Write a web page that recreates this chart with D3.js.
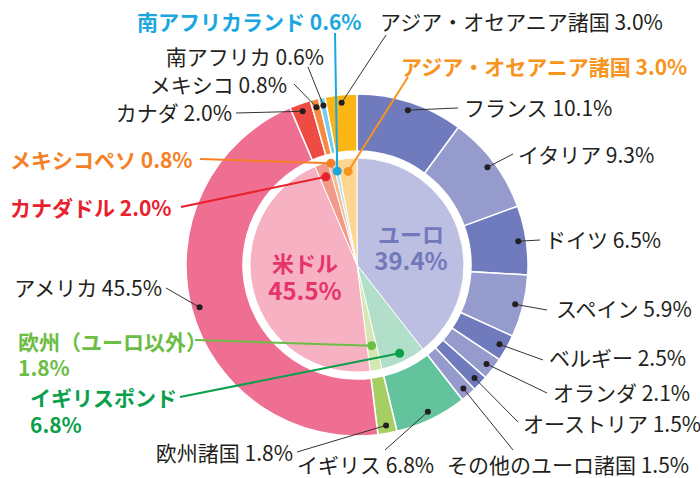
<!DOCTYPE html>
<html>
<head>
<meta charset="utf-8">
<script src="https://cdn.jsdelivr.net/npm/d3@7"></script>
<style>
  body { margin: 0; background: #fff; }
  svg { display: block; font-family: "Noto Sans CJK JP", "Noto Sans", sans-serif; }
</style>
</head>
<body>
<svg id="chart" width="700" height="478"></svg>
<script>
// inner ring: currencies
const currencies = ["ユーロ", "イギリスポンド", "欧州（ユーロ以外）", "米ドル", "カナダドル", "メキシコペソ", "南アフリカランド", "アジア・オセアニア諸国"];
const currencyShares = [39.4, 6.8, 1.8, 45.5, 2.0, 0.8, 0.6, 3.0];

// outer ring: countries
const countries = ["フランス", "イタリア", "ドイツ", "スペイン", "ベルギー", "オランダ", "オーストリア", "その他のユーロ諸国",
  "イギリス", "欧州諸国", "アメリカ", "カナダ", "メキシコ", "南アフリカ", "アジア・オセアニア諸国"];
const countryShares = [10.1, 9.3, 6.5, 5.9, 2.5, 2.1, 1.5, 1.5, 6.8, 1.8, 45.5, 2.0, 0.8, 0.6, 3.0];

const innerColors = ["#bcbfe1", "#b2dfca", "#d6e7b3", "#f6b2c3", "#f29a8a", "#f8b98c", "#b3e1f5", "#fed68f"];
const outerColors = ["#6f7bbd", "#959bcc", "#6f7bbd", "#959bcc", "#6f7bbd", "#959bcc", "#6f7bbd", "#959bcc",
  "#62c39c", "#a5cf62", "#ef6f92", "#ee4b45", "#f68b3f", "#76cbef", "#fcb614"];

// label placement, same order as the arrays above
const outerLabelPos = [
  {x: 464, y: 108, anchor: "start", lx: 458, ly: 108},
  {x: 518, y: 155, anchor: "start", lx: 513, ly: 154},
  {x: 545, y: 240, anchor: "start", lx: 540, ly: 240},
  {x: 556, y: 309, anchor: "start", lx: 547, ly: 310},
  {x: 549, y: 358, anchor: "start", lx: 543, ly: 360},
  {x: 553, y: 393, anchor: "start", lx: 547, ly: 393},
  {x: 523, y: 424, anchor: "start", lx: 518, ly: 422},
  {x: 447, y: 465, anchor: "start", lx: 513, ly: 450},
  {x: 297, y: 465, anchor: "start", lx: 385, ly: 450},
  {x: 293, y: 453, anchor: "end", lx: 297, ly: 452},
  {x: 162, y: 288, anchor: "end", lx: 166, ly: 288},
  {x: 232, y: 113, anchor: "end", lx: 236, ly: 113},
  {x: 287, y: 85, anchor: "end", lx: 294, ly: 84},
  {x: 324, y: 57, anchor: "end", lx: 308, ly: 67},
  {x: 380, y: 22, anchor: "start", lx: 386, ly: 35}
];

const innerLabelPos = [
  {center: true, x: 411, y: 235, gap: 26, color: "#7279bb"},
  {x: 30, y: 398, gap: 27, lx: 180, ly: 397, r: 98, color: "#0aa04b", wrap: true},
  {x: 18, y: 342, gap: 26, lx: 195, ly: 340, r: 82, color: "#6cbd45", wrap: true},
  {center: true, x: 305, y: 264, gap: 27, color: "#e6336c"},
  {x: 10, y: 208, lx: 181, ly: 207, r: 93.5, color: "#e8212e"},
  {x: 10, y: 160, lx: 200, ly: 159, r: 105, color: "#f58025"},
  {x: 137, y: 22, lx: 335, ly: 33, r: 96, color: "#1aa7df"},
  {x: 401, y: 67, lx: 408, ly: 77, r: 94, color: "#f7941e"}
];

const cx = 357, cy = 265;
const outerR = 171, ringInner = 114, innerR = 107, dotR = 163;
const fmt = v => d3.format(".1f")(v) + "%";

const svg = d3.select("#chart");
const g = svg.append("g").attr("transform", `translate(${cx},${cy})`);

const pie = d3.pie().sort(null).value(d => d.value);

const innerData = pie(currencies.map((c, i) => ({name: c, value: currencyShares[i], i: i})));
const outerData = pie(countries.map((c, i) => ({name: c, value: countryShares[i], i: i})));

const innerArc = d3.arc().innerRadius(0).outerRadius(innerR);
const outerArc = d3.arc().innerRadius(ringInner).outerRadius(outerR);
const dotArc = d3.arc().innerRadius(dotR).outerRadius(dotR);

g.selectAll("path.outer")
  .data(outerData)
  .enter().append("path")
  .attr("class", "outer")
  .attr("d", outerArc)
  .attr("fill", d => outerColors[d.data.i])
  .attr("stroke", "#fff")
  .attr("stroke-width", 1.5);

g.selectAll("path.inner")
  .data(innerData)
  .enter().append("path")
  .attr("class", "inner")
  .attr("d", innerArc)
  .attr("fill", d => innerColors[d.data.i])
  .attr("stroke", "#fff")
  .attr("stroke-width", 1);

// outer labels (black)
outerData.forEach(d => {
  const p = outerLabelPos[d.data.i];
  const c = dotArc.centroid(d);
  g.append("line")
    .attr("x1", c[0]).attr("y1", c[1])
    .attr("x2", p.lx - cx).attr("y2", p.ly - cy)
    .attr("stroke", "#333").attr("stroke-width", 1);
  g.append("circle")
    .attr("cx", c[0]).attr("cy", c[1]).attr("r", 3)
    .attr("fill", "#231f20");
  svg.append("text")
    .attr("x", p.x).attr("y", p.y)
    .attr("dy", "0.36em")
    .attr("text-anchor", p.anchor)
    .attr("font-size", "21px")
    .attr("fill", "#231f20")
    .text(d.data.name + " " + fmt(d.data.value));
});

// inner labels (coloured, bold); two-line ones use tspans in one text
innerData.forEach(d => {
  const p = innerLabelPos[d.data.i];
  if (p.center) {
    const t = svg.append("text")
      .attr("text-anchor", "middle")
      .attr("font-weight", "bold")
      .attr("fill", p.color);
    t.append("tspan")
      .attr("x", p.x).attr("y", p.y).attr("dy", "0.36em")
      .attr("font-size", "22px")
      .text(d.data.name);
    t.append("tspan")
      .attr("x", p.x).attr("y", p.y + p.gap).attr("dy", "0.36em")
      .attr("font-size", "24px")
      .text(fmt(d.data.value));
    return;
  }
  const c = d3.arc().innerRadius(p.r).outerRadius(p.r).centroid(d);
  g.append("line")
    .attr("x1", c[0]).attr("y1", c[1])
    .attr("x2", p.lx - cx).attr("y2", p.ly - cy)
    .attr("stroke", p.color).attr("stroke-width", 2);
  g.append("circle")
    .attr("cx", c[0]).attr("cy", c[1]).attr("r", 4.5)
    .attr("fill", p.color);
  const t = svg.append("text")
    .attr("font-size", "21px").attr("font-weight", "bold")
    .attr("fill", p.color);
  if (p.wrap) {
    t.append("tspan")
      .attr("x", p.x).attr("y", p.y).attr("dy", "0.36em")
      .text(d.data.name);
    t.append("tspan")
      .attr("x", p.x).attr("y", p.y + p.gap).attr("dy", "0.36em")
      .text(fmt(d.data.value));
  } else {
    t.attr("x", p.x).attr("y", p.y).attr("dy", "0.36em")
      .text(d.data.name + " " + fmt(d.data.value));
  }
});
</script>
</body>
</html>
